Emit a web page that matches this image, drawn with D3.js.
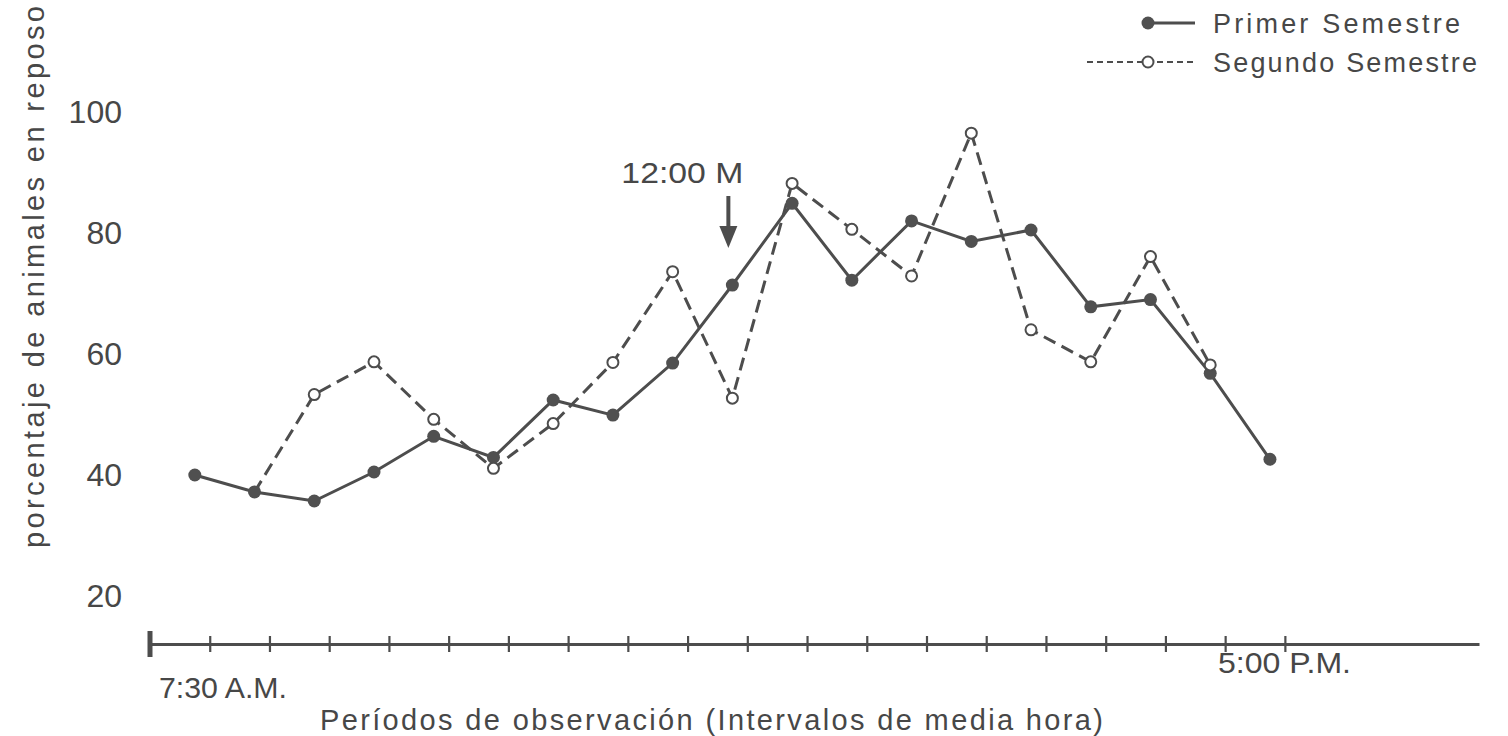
<!DOCTYPE html>
<html>
<head>
<meta charset="utf-8">
<script src="https://cdn.jsdelivr.net/npm/d3@7"></script>
<style>
  html, body { margin: 0; padding: 0; background: #fff; }
  svg { display: block; }
  text { font-family: "Liberation Sans", Arial, sans-serif; fill: #474747; }
</style>
</head>
<body>
<svg id="chart" width="1508" height="736"></svg>
<script>
// ---- data (half-hour observation periods, 7:30 A.M. .. ) ----
const periods = d3.range(0, 19);               // 19 half-hour periods
const primerSemestre = [40.0, 37.2, 35.7, 40.5, 46.4, 42.9, 52.4, 49.9, 58.5, 71.4,
                        84.9, 72.2, 82.0, 78.6, 80.5, 67.8, 69.0, 56.8, 42.6];
const segundoSemestre = [null, 37.2, 53.3, 58.7, 49.2, 41.1, 48.5, 58.6, 73.6, 52.7,
                         88.2, 80.6, 72.9, 96.5, 64.0, 58.7, 76.1, 58.2, null];
const yTicks = [20, 40, 60, 80, 100];
const tickPeriods = d3.range(0.25, 18.5, 1);    // axis tick marks
const noonPeriod = 9;                            // 12:00 M
const startLabel = "7:30 A.M.";
const endLabel = "5:00 P.M.";

const svg = d3.select("#chart");
const ink = "#4d4d4d";

const x = d3.scaleLinear().domain([-0.75, 21.5]).range([150, 1479]);
const y = d3.scaleLinear().domain([20, 100]).range([596, 112]);

// ---- x axis ----
const axisY = 644;
const xAxis = d3.axisBottom(x).tickValues(tickPeriods).tickSize(0).tickSizeOuter(0).tickFormat("");
const gx = svg.append("g").attr("transform", `translate(0,${axisY})`).call(xAxis);
gx.select(".domain").attr("stroke", ink).attr("stroke-width", 3);
gx.selectAll(".tick line").attr("y1", -8).attr("y2", 8).attr("stroke", ink).attr("stroke-width", 2.2);
svg.append("line")
  .attr("x1", x.range()[0]).attr("x2", x.range()[0])
  .attr("y1", axisY - 13).attr("y2", axisY + 13)
  .attr("stroke", ink).attr("stroke-width", 5);

// ---- y tick labels ----
svg.append("g").selectAll("text").data(yTicks).join("text")
  .attr("x", 122).attr("y", d => y(d))
  .attr("text-anchor", "end").attr("dominant-baseline", "central")
  .attr("font-size", 32)
  .text(d => d);

// ---- y title ----
svg.append("text")
  .attr("transform", "translate(44,548) rotate(-90)")
  .attr("font-size", 29)
  .attr("textLength", 542).attr("lengthAdjust", "spacing")
  .text("porcentaje de animales en reposo");

// ---- x labels ----
svg.append("text").attr("x", 159).attr("y", 698).attr("font-size", 30)
  .attr("textLength", 128).attr("lengthAdjust", "spacingAndGlyphs").text(startLabel);
svg.append("text").attr("x", 1218).attr("y", 673).attr("font-size", 30)
  .attr("textLength", 133).attr("lengthAdjust", "spacingAndGlyphs").text(endLabel);
svg.append("text").attr("x", 320).attr("y", 730).attr("font-size", 29)
  .attr("textLength", 783).attr("lengthAdjust", "spacing")
  .text("Períodos de observación (Intervalos de media hora)");

// ---- series ----
const solid = d3.line().defined(d => d.v != null).x(d => x(d.i)).y(d => y(d.v));
const s1 = periods.map(i => ({ i, v: primerSemestre[i] }));
const s2 = periods.map(i => ({ i, v: segundoSemestre[i] }));

svg.append("path").datum(s2).attr("d", solid)
  .attr("fill", "none").attr("stroke", ink).attr("stroke-width", 3)
  .attr("stroke-dasharray", "13 7");
svg.append("path").datum(s1).attr("d", solid)
  .attr("fill", "none").attr("stroke", ink).attr("stroke-width", 3);

svg.append("g").selectAll("circle").data(s1).join("circle")
  .attr("cx", d => x(d.i)).attr("cy", d => y(d.v)).attr("r", 6.5).attr("fill", "#505050");

const firstOpen = segundoSemestre.findIndex(v => v != null);
svg.append("g").selectAll("circle").data(s2.filter(d => d.v != null && d.i > firstOpen)).join("circle")
  .attr("cx", d => x(d.i)).attr("cy", d => y(d.v)).attr("r", 5.5)
  .attr("fill", "#fff").attr("stroke", ink).attr("stroke-width", 2);

// ---- 12:00 M annotation ----
const ax = x(noonPeriod) - 4;
svg.append("text").attr("x", ax - 107).attr("y", 183).attr("font-size", 30)
  .attr("textLength", 122).attr("lengthAdjust", "spacingAndGlyphs").text("12:00 M");
svg.append("line").attr("x1", ax).attr("x2", ax).attr("y1", 196).attr("y2", 230)
  .attr("stroke", ink).attr("stroke-width", 4);
svg.append("path")
  .attr("d", d3.line()([[ax - 9, 226], [ax + 9, 226], [ax, 248]]))
  .attr("fill", ink);

// ---- legend ----
const lg = svg.append("g");
lg.append("line").attr("x1", 1142).attr("x2", 1195).attr("y1", 23).attr("y2", 23)
  .attr("stroke", ink).attr("stroke-width", 3);
lg.append("circle").attr("cx", 1148).attr("cy", 23).attr("r", 6.5).attr("fill", "#505050");
lg.append("text").attr("x", 1213).attr("y", 33).attr("font-size", 27)
  .attr("textLength", 247).attr("lengthAdjust", "spacing").text("Primer Semestre");
lg.append("line").attr("x1", 1087).attr("x2", 1195).attr("y1", 62).attr("y2", 62)
  .attr("stroke", ink).attr("stroke-width", 2).attr("stroke-dasharray", "6 4");
lg.append("circle").attr("cx", 1148).attr("cy", 62).attr("r", 5.5)
  .attr("fill", "#fff").attr("stroke", ink).attr("stroke-width", 2);
lg.append("text").attr("x", 1213).attr("y", 72).attr("font-size", 27)
  .attr("textLength", 264).attr("lengthAdjust", "spacing").text("Segundo Semestre");
</script>
</body>
</html>
